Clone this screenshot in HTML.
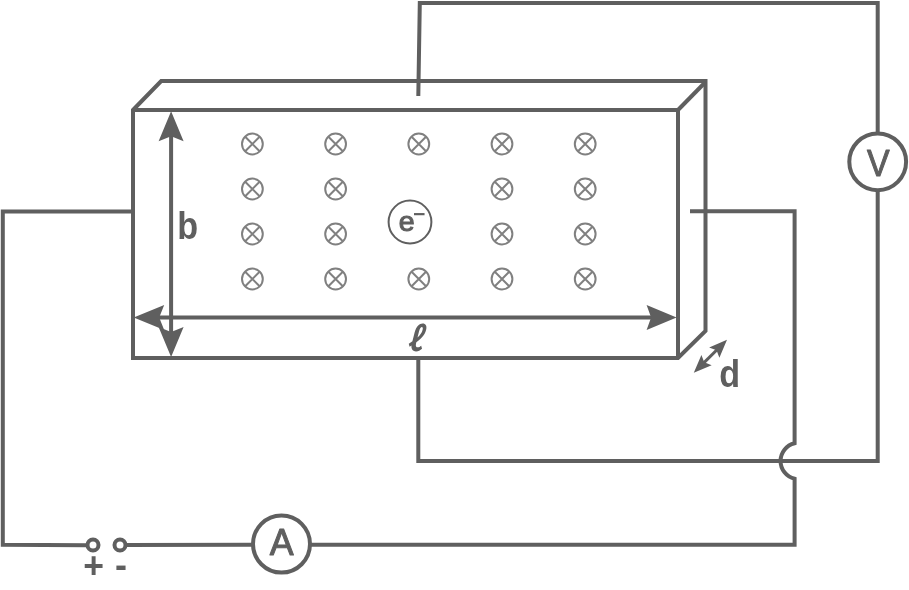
<!DOCTYPE html>
<html lang="en">
<head>
<meta charset="utf-8">
<title>Hall effect circuit</title>
<style>
html,body{margin:0;padding:0;background:#fff;}
body{width:909px;height:590px;overflow:hidden;}
svg{display:block;will-change:transform;}
text{font-family:"Liberation Sans",sans-serif;fill:#5f5f5f;}
.b{font-weight:bold;}
</style>
</head>
<body>
<svg width="909" height="590" viewBox="0 0 909 590">
<rect width="909" height="590" fill="#fff"/>
<g fill="none" stroke="#5f5f5f" stroke-width="4" stroke-linejoin="miter">
  <!-- box -->
  <path d="M133,110 L161.200,81 L705.500,81 L705.500,331 L678,358 L133,358 Z"/>
  <path d="M133,110 L678,110 L678,358"/>
  <path d="M678,110 L705.500,82"/>
  <!-- top wire to voltmeter -->
  <path d="M418.300,96 L419.800,3 L877.700,3 L877.700,133"/>
  <path d="M877.700,190 L877.700,461.100 L418.300,461.100 L418.300,358"/>
  <!-- right wire -->
  <path d="M690,211.200 L794.600,211.200 L794.600,443.200 A18.300,18.300 0 0 0 794.600,478.800 L794.600,544.800 L310,544.800"/>
  <!-- left wire -->
  <path d="M133,211.400 L2.800,211.400 L2.800,544.800 L87,545.200"/>
  <path d="M126,545 L253,544.800"/>
  <circle cx="877.700" cy="161.850" r="28.400"/>
  <circle cx="281.500" cy="544.100" r="28.500"/>
  <circle cx="93" cy="545" r="5.500"/>
  <circle cx="120" cy="545" r="5.500"/>
  <!-- arrows shafts -->
  <path d="M171.100,130 L171.100,338"/>
  <path d="M155,317.500 L656,317.500"/>
</g>
<g fill="none" stroke="#5f5f5f" stroke-width="3">
  <path d="M702,364.600 L719,347.800"/>
</g>
<g fill="#5f5f5f" stroke="none">
<path d="M171.10,111.30 L183.60,141.30 L171.10,136.30 L158.60,141.30 Z"/>
<path d="M171.10,356.90 L158.60,326.90 L171.10,331.90 L183.60,326.90 Z"/>
<path d="M133.70,317.50 L164.20,305.00 L159.20,317.50 L164.20,330.00 Z"/>
<path d="M676.60,317.50 L646.60,330.00 L651.10,317.50 L646.60,305.00 Z"/>
<path d="M727.00,339.80 L719.40,357.65 L716.53,350.27 L709.15,347.40 Z"/>
<path d="M693.80,372.80 L701.40,354.95 L704.27,362.33 L711.65,365.20 Z"/>
</g>
<g fill="none" stroke="#808080" stroke-width="2">
<g transform="translate(252.4,144)"><circle r="10.4"/><path d="M-7.2,-7.2L7.2,7.2M-7.2,7.2L7.2,-7.2"/></g>
<g transform="translate(335.6,144)"><circle r="10.4"/><path d="M-7.2,-7.2L7.2,7.2M-7.2,7.2L7.2,-7.2"/></g>
<g transform="translate(418.8,144)"><circle r="10.4"/><path d="M-7.2,-7.2L7.2,7.2M-7.2,7.2L7.2,-7.2"/></g>
<g transform="translate(502.0,144)"><circle r="10.4"/><path d="M-7.2,-7.2L7.2,7.2M-7.2,7.2L7.2,-7.2"/></g>
<g transform="translate(585.2,144)"><circle r="10.4"/><path d="M-7.2,-7.2L7.2,7.2M-7.2,7.2L7.2,-7.2"/></g>
<g transform="translate(252.4,189)"><circle r="10.4"/><path d="M-7.2,-7.2L7.2,7.2M-7.2,7.2L7.2,-7.2"/></g>
<g transform="translate(335.6,189)"><circle r="10.4"/><path d="M-7.2,-7.2L7.2,7.2M-7.2,7.2L7.2,-7.2"/></g>
<g transform="translate(502.0,189)"><circle r="10.4"/><path d="M-7.2,-7.2L7.2,7.2M-7.2,7.2L7.2,-7.2"/></g>
<g transform="translate(585.2,189)"><circle r="10.4"/><path d="M-7.2,-7.2L7.2,7.2M-7.2,7.2L7.2,-7.2"/></g>
<g transform="translate(252.4,234)"><circle r="10.4"/><path d="M-7.2,-7.2L7.2,7.2M-7.2,7.2L7.2,-7.2"/></g>
<g transform="translate(335.6,234)"><circle r="10.4"/><path d="M-7.2,-7.2L7.2,7.2M-7.2,7.2L7.2,-7.2"/></g>
<g transform="translate(502.0,234)"><circle r="10.4"/><path d="M-7.2,-7.2L7.2,7.2M-7.2,7.2L7.2,-7.2"/></g>
<g transform="translate(585.2,234)"><circle r="10.4"/><path d="M-7.2,-7.2L7.2,7.2M-7.2,7.2L7.2,-7.2"/></g>
<g transform="translate(252.4,279)"><circle r="10.4"/><path d="M-7.2,-7.2L7.2,7.2M-7.2,7.2L7.2,-7.2"/></g>
<g transform="translate(335.6,279)"><circle r="10.4"/><path d="M-7.2,-7.2L7.2,7.2M-7.2,7.2L7.2,-7.2"/></g>
<g transform="translate(418.8,279)"><circle r="10.4"/><path d="M-7.2,-7.2L7.2,7.2M-7.2,7.2L7.2,-7.2"/></g>
<g transform="translate(502.0,279)"><circle r="10.4"/><path d="M-7.2,-7.2L7.2,7.2M-7.2,7.2L7.2,-7.2"/></g>
<g transform="translate(585.2,279)"><circle r="10.4"/><path d="M-7.2,-7.2L7.2,7.2M-7.2,7.2L7.2,-7.2"/></g>
</g>
<circle cx="410" cy="222" r="21.400" fill="none" stroke="#5f5f5f" stroke-width="2"/>
<g stroke="#5f5f5f" stroke-linejoin="round">
<text x="398.800" y="230.900" font-size="28.500" stroke-width="1.100">e</text>
<text class="b" transform="translate(413,221.200) scale(1.110,1.050)" font-size="19" stroke-width="0">−</text>
<text class="b" transform="translate(177.200,239.200) scale(0.950,1.090)" font-size="36" stroke-width="0">b</text>
<text class="b" transform="translate(719.300,387.200) scale(0.950,1.090)" font-size="36" stroke-width="0">d</text>
<text class="b" transform="translate(406.550,351.250) skewX(-14) scale(0.850,1)" font-size="34" style="font-family:'Noto Sans CJK SC','Liberation Sans',sans-serif" stroke-width="0">ℓ</text>
<text transform="translate(878.300,176.300) scale(0.930,1)" font-size="36.500" text-anchor="middle" stroke-width="1">V</text>
<text transform="translate(281.600,554.500) scale(0.980,1)" font-size="36.500" text-anchor="middle" stroke-width="1">A</text>
<text class="b" transform="translate(93.500,578.200) scale(1,1.060)" font-size="35.500" text-anchor="middle" stroke-width="0">+</text>
<text class="b" x="121.100" y="577.300" font-size="36" text-anchor="middle" stroke-width="0">-</text>
</g>
</svg>
</body>
</html>
